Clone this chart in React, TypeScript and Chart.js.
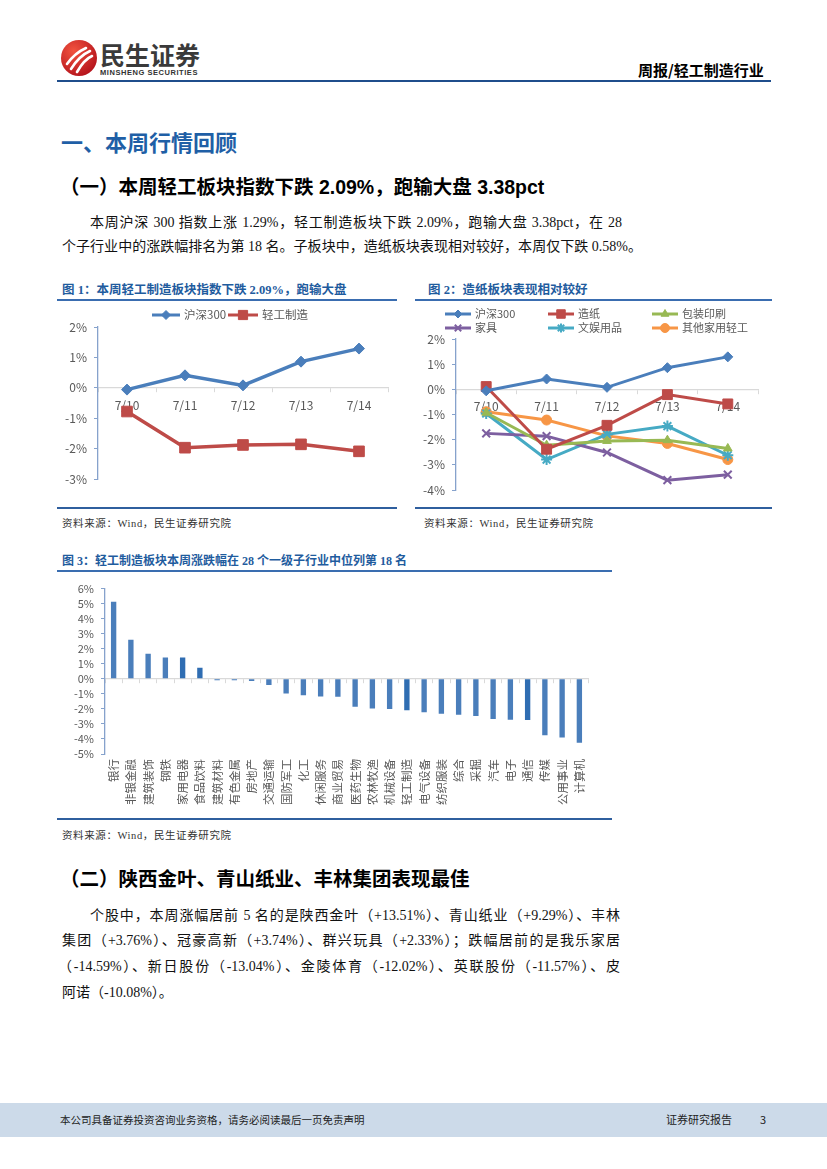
import React, { useEffect, useRef } from 'react';
import { Chart, registerables } from 'chart.js';
import { drawPoint } from 'chart.js/helpers';

Chart.register(...registerables);

const FONT_CJK = '"Noto Sans CJK SC", "Noto Sans", sans-serif';
const FONT_BODY = '"Liberation Serif", "Noto Sans CJK SC", serif';
const FONT_HEAD = '"Liberation Sans", "Noto Sans CJK SC", sans-serif';

// ---------- data ----------
const dates = ['7/10', '7/11', '7/12', '7/13', '7/14'];
const fig1Names = ['沪深300', '轻工制造'];
const hs300 = [-0.06, 0.41, 0.08, 0.86, 1.29];
const qinggong = [-0.78, -1.97, -1.88, -1.86, -2.09];

const fig2Names = ['沪深300', '造纸', '包装印刷', '家具', '文娱用品', '其他家用轻工'];
const zaozhi = [0.11, -2.38, -1.43, -0.21, -0.58];
const baozhuang = [-0.93, -2.22, -2.05, -2.02, -2.35];
const jiaju = [-1.75, -1.86, -2.51, -3.61, -3.39];
const wenyu = [-0.96, -2.79, -1.79, -1.46, -2.62];
const qita = [-0.89, -1.22, -1.85, -2.15, -2.79];

const industries = ['银行', '非银金融', '建筑装饰', '钢铁', '家用电器', '食品饮料', '建筑材料', '有色金属', '房地产', '交通运输', '国防军工', '化工', '休闲服务', '商业贸易', '医药生物', '农林牧渔', '机械设备', '轻工制造', '电气设备', '纺织服装', '综合', '采掘', '汽车', '电子', '通信', '传媒', '公用事业', '计算机'];
const industryChange = [5.13, 2.59, 1.67, 1.41, 1.41, 0.74, -0.1, -0.1, -0.15, -0.41, -0.98, -1.09, -1.17, -1.2, -1.85, -1.98, -2.0, -2.09, -2.22, -2.33, -2.39, -2.48, -2.67, -2.72, -2.74, -3.76, -3.91, -4.26];
const darkerBars = ['家用电器', '食品饮料', '轻工制造', '通信'];

// ---------- styles ----------
const BLUE = '#4A7EBB';
const RED = '#BE4B48';
const GREEN = '#98B954';
const PURPLE = '#7D5FA0';
const TEAL = '#46AAC4';
const ORANGE = '#F79646';
const AXIS_BLUE = '#86A2CC';
const GRID_GRAY = '#D9D9D9';
const TICK_COLOR = '#595959';
const TITLE_BLUE = '#1F5C9E';

type LegendItem = { label: string; color: string; style: any; r: number; bw: number; x: number; y: number; len: number };

function legendPlugin(items: LegendItem[], fontSize: number) {
  return {
    id: 'customLegend',
    afterDraw(chart: any) {
      const ctx = chart.ctx;
      ctx.save();
      items.forEach((it) => {
        ctx.strokeStyle = it.color;
        ctx.fillStyle = it.color;
        ctx.lineWidth = 3;
        ctx.beginPath();
        ctx.moveTo(it.x, it.y);
        ctx.lineTo(it.x + it.len, it.y);
        ctx.stroke();
        ctx.lineWidth = it.bw;
        drawPoint(ctx, { pointStyle: it.style, radius: it.r, borderWidth: it.bw, rotation: 0 } as any, it.x + it.len / 2, it.y);
        ctx.fillStyle = TICK_COLOR;
        ctx.font = `${fontSize}px ${FONT_CJK}`;
        ctx.textBaseline = 'middle';
        ctx.textAlign = 'left';
        ctx.fillText(it.label, it.x + it.len + 4, it.y);
      });
      ctx.restore();
    },
  };
}

function yAxis(min: number, max: number, width: number, fontSize: number) {
  return {
    min,
    max,
    ticks: {
      stepSize: 1,
      autoSkip: false,
      callback: (v: any) => `${v}%`,
      color: TICK_COLOR,
      font: { size: fontSize, family: FONT_CJK },
      padding: 7,
    },
    grid: { display: true, drawOnChartArea: false, drawTicks: true, tickLength: 4, color: AXIS_BLUE },
    border: { display: true, color: AXIS_BLUE, width: 1.3 },
    afterFit: (s: any) => {
      s.width = width;
    },
  };
}

function zeroXAxis(showLabels: boolean, fontSize: number) {
  return {
    type: 'category',
    position: { y: 0 },
    offset: true,
    grid: { display: true, drawOnChartArea: false, drawTicks: true, tickLength: 4, color: GRID_GRAY, offset: true },
    border: { display: true, color: GRID_GRAY, width: 1.2 },
    ticks: {
      display: showLabels,
      color: TICK_COLOR,
      font: { size: fontSize, family: FONT_CJK },
      padding: 6,
      maxRotation: 0,
      autoSkip: false,
    },
  };
}

function lineDs(label: string, data: number[], color: string, style: string, r: number, bw: number, lw: number) {
  return {
    label,
    data,
    borderColor: color,
    backgroundColor: color,
    borderWidth: lw,
    pointStyle: style,
    pointRadius: r,
    pointBorderWidth: bw,
    pointBackgroundColor: color,
    pointBorderColor: color,
    tension: 0,
  };
}

function useChart(ref: React.RefObject<HTMLCanvasElement>, make: (c: HTMLCanvasElement) => Chart) {
  useEffect(() => {
    if (!ref.current) return;
    const ch = make(ref.current);
    return () => ch.destroy();
  }, []);
}

function Fig1() {
  const ref = useRef<HTMLCanvasElement>(null);
  useChart(ref, (c) =>
    new Chart(c, {
      type: 'line',
      data: {
        labels: dates,
        datasets: [
          lineDs(fig1Names[0], hs300, BLUE, 'rectRot', 5.5, 1, 3.5),
          lineDs(fig1Names[1], qinggong, RED, 'rect', 7.5, 1, 3.5),
        ] as any,
      },
      options: {
        responsive: false,
        animation: false,
        layout: { padding: { left: 0, right: 9, top: 24, bottom: 26 } },
        plugins: { legend: { display: false }, tooltip: { enabled: false } },
        scales: { x: zeroXAxis(true, 12) as any, y: yAxis(-3, 2, 41, 12) as any },
      },
      plugins: [
        legendPlugin(
          [
            { label: fig1Names[0], color: BLUE, style: 'rectRot', r: 4.5, bw: 1, x: 95, y: 12, len: 28 },
            { label: fig1Names[1], color: RED, style: 'rect', r: 6.5, bw: 1, x: 171, y: 12, len: 30 },
          ],
          11.5
        ),
      ],
    })
  );
  return <canvas ref={ref} width={340} height={202} style={{ position: 'absolute', left: 57, top: 303, width: 340, height: 202 }} />;
}

function Fig2() {
  const ref = useRef<HTMLCanvasElement>(null);
  useChart(ref, (c) =>
    new Chart(c, {
      type: 'line',
      data: {
        labels: dates,
        datasets: [
          lineDs(fig2Names[0], hs300, BLUE, 'rectRot', 5, 1, 3),
          lineDs(fig2Names[1], zaozhi, RED, 'rect', 7, 1, 3),
          lineDs(fig2Names[2], baozhuang, GREEN, 'triangle', 5, 1, 3),
          lineDs(fig2Names[3], jiaju, PURPLE, 'crossRot', 5.5, 2, 3),
          lineDs(fig2Names[4], wenyu, TEAL, 'star', 5.5, 2, 3),
          lineDs(fig2Names[5], qita, ORANGE, 'circle', 5, 1, 3),
        ] as any,
      },
      options: {
        responsive: false,
        animation: false,
        layout: { padding: { left: 0, right: 14, top: 36, bottom: 15 } },
        plugins: { legend: { display: false }, tooltip: { enabled: false } },
        scales: { x: zeroXAxis(true, 12) as any, y: yAxis(-4, 2, 41, 12) as any },
      },
      plugins: [
        legendPlugin(
          [
            { label: fig2Names[0], color: BLUE, style: 'rectRot', r: 4, bw: 1, x: 30, y: 11, len: 26 },
            { label: fig2Names[1], color: RED, style: 'rect', r: 6, bw: 1, x: 133, y: 11, len: 26 },
            { label: fig2Names[2], color: GREEN, style: 'triangle', r: 4.5, bw: 1, x: 237, y: 11, len: 26 },
            { label: fig2Names[3], color: PURPLE, style: 'crossRot', r: 4.5, bw: 2, x: 30, y: 25, len: 26 },
            { label: fig2Names[4], color: TEAL, style: 'star', r: 4.5, bw: 2, x: 133, y: 25, len: 26 },
            { label: fig2Names[5], color: ORANGE, style: 'circle', r: 4.5, bw: 1, x: 237, y: 25, len: 26 },
          ],
          11
        ),
      ],
    })
  );
  return <canvas ref={ref} width={357} height={202} style={{ position: 'absolute', left: 415, top: 303, width: 357, height: 202 }} />;
}

function Fig3() {
  const ref = useRef<HTMLCanvasElement>(null);
  const barColors = industries.map((n) => (darkerBars.includes(n) ? '#2F6DB2' : BLUE));
  useChart(ref, (c) =>
    new Chart(c, {
      type: 'bar',
      data: {
        labels: industries,
        datasets: [
          {
            data: industryChange,
            backgroundColor: barColors,
            borderWidth: 0,
            barPercentage: 0.31,
            categoryPercentage: 1,
          },
        ],
      },
      options: {
        responsive: false,
        animation: false,
        layout: { padding: { left: 0, right: 24, top: 11, bottom: 0 } },
        plugins: { legend: { display: false }, tooltip: { enabled: false } },
        scales: {
          x: {
            type: 'category',
            position: 'bottom',
            offset: true,
            grid: { display: false, drawTicks: false },
            border: { display: false },
            ticks: {
              autoSkip: false,
              minRotation: 90,
              maxRotation: 90,
              padding: 5,
              color: TICK_COLOR,
              font: { size: 11.5, family: FONT_CJK },
            },
            afterFit: (s: any) => {
              s.height = 64;
            },
          } as any,
          x0: zeroXAxis(false, 11) as any,
          y: yAxis(-5, 6, 48, 11) as any,
        },
      },
    })
  );
  return <canvas ref={ref} width={555} height={243} style={{ position: 'absolute', left: 57, top: 575, width: 555, height: 243 }} />;
}

type TProps = { x: number; y: number; s: number; w?: number; c?: string; f?: string; width?: number; ls?: number; children: React.ReactNode };
function T({ x, y, s, w = 400, c = '#111', f = FONT_BODY, width, ls, children }: TProps) {
  return (
    <div
      style={{
        position: 'absolute',
        left: x,
        top: y - s * 0.6,
        fontSize: s,
        lineHeight: `${s * 1.2}px`,
        fontWeight: w,
        color: c,
        fontFamily: f,
        whiteSpace: 'nowrap',
        width,
        textAlign: width ? 'justify' : undefined,
        textAlignLast: width ? 'justify' : undefined,
        letterSpacing: ls,
      } as any}
    >
      {children}
    </div>
  );
}

function HLine({ x1, x2, y, h, c }: { x1: number; x2: number; y: number; h: number; c: string }) {
  return <div style={{ position: 'absolute', left: x1, top: y - h / 2, width: x2 - x1, height: h, background: c }} />;
}

export default function App() {
  return (
    <div style={{ position: 'absolute', left: 0, top: 0, width: 827, height: 1169, overflow: 'hidden', background: '#fff' }}>
      {/* header */}
      <svg style={{ position: 'absolute', left: 59, top: 38 }} width={40} height={40} viewBox="0 0 40 40">
        <defs>
          <radialGradient id="lg" cx="35%" cy="30%" r="75%">
            <stop offset="0" stopColor="#f2533f" />
            <stop offset="1" stopColor="#b5141c" />
          </radialGradient>
        </defs>
        <circle cx="20" cy="20" r="18" fill="url(#lg)" />
        <path d="M8 26 C 13 19, 18 14, 27 10" stroke="#fff" strokeWidth="2.6" fill="none" strokeLinecap="round" />
        <path d="M12 31 C 17 23, 22 17, 31 13" stroke="#fff" strokeWidth="2.6" fill="none" strokeLinecap="round" />
        <path d="M18 34 C 22 27, 26 21, 33 18" stroke="#fff" strokeWidth="2.6" fill="none" strokeLinecap="round" />
      </svg>
      <T x={100} y={53.5} s={25} w={700} c="#3a3a3a" f={FONT_CJK}>民生证券</T>
      <T x={100} y={72.5} s={7.5} w={700} c="#333" f={FONT_HEAD} ls={0.55}>MINSHENG SECURITIES</T>
      <T x={638} y={70} s={15} w={700} c="#000" f={FONT_CJK}>周报/轻工制造行业</T>
      <HLine x1={57} x2={771} y={80.5} h={2} c="#1F4E8C" />

      {/* section titles */}
      <T x={61} y={141} s={22} w={700} c="#1F5FA6" f={FONT_CJK}>一、本周行情回顾</T>
      <T x={60} y={188} s={19.5} w={700} c="#000" f={FONT_HEAD}>（一）本周轻工板块指数下跌 2.09%，跑输大盘 3.38pct</T>
      <T x={90} y={223} s={14} width={532}>本周沪深 300 指数上涨 1.29%，轻工制造板块下跌 2.09%，跑输大盘 3.38pct，在 28</T>
      <T x={62} y={247} s={14} width={580}>个子行业中的涨跌幅排名为第 18 名。子板块中，造纸板块表现相对较好，本周仅下跌 0.58%。</T>

      {/* figure 1 & 2 */}
      <T x={62} y={290} s={12.5} w={700} c={TITLE_BLUE} f={FONT_BODY}>图 1：本周轻工制造板块指数下跌 2.09%，跑输大盘</T>
      <HLine x1={57} x2={397} y={300} h={1.6} c="#3A6DB0" />
      <T x={428} y={290} s={12.5} w={700} c={TITLE_BLUE} f={FONT_BODY}>图 2：造纸板块表现相对较好</T>
      <HLine x1={415} x2={772} y={300} h={1.6} c="#3A6DB0" />
      <Fig1 />
      <Fig2 />
      <HLine x1={57} x2={397} y={508} h={2} c="#2F5F9E" />
      <HLine x1={415} x2={772} y={508} h={2} c="#2F5F9E" />
      <T x={62} y={524} s={10.5} c="#333" ls={0.6}>资料来源：Wind，民生证券研究院</T>
      <T x={424} y={524} s={10.5} c="#333" ls={0.6}>资料来源：Wind，民生证券研究院</T>

      {/* figure 3 */}
      <T x={62} y={561} s={12} w={700} c={TITLE_BLUE} f={FONT_BODY}>图 3：轻工制造板块本周涨跌幅在 28 个一级子行业中位列第 18 名</T>
      <HLine x1={57} x2={612} y={571} h={1.6} c="#3A6DB0" />
      <Fig3 />
      <HLine x1={57} x2={612} y={819} h={2} c="#2F5F9E" />
      <T x={62} y={836} s={10.5} c="#333" ls={0.6}>资料来源：Wind，民生证券研究院</T>

      {/* section 2 */}
      <T x={60} y={880} s={19.5} w={700} c="#000" f={FONT_HEAD}>（二）陕西金叶、青山纸业、丰林集团表现最佳</T>
      <T x={90} y={916} s={14} width={530}>个股中，本周涨幅居前 5 名的是陕西金叶（+13.51%）、青山纸业（+9.29%）、丰林</T>
      <T x={62} y={941} s={14} width={558}>集团（+3.76%）、冠豪高新（+3.74%）、群兴玩具（+2.33%）；跌幅居前的是我乐家居</T>
      <T x={58} y={967} s={14} width={562}>（-14.59%）、新日股份（-13.04%）、金陵体育（-12.02%）、英联股份（-11.57%）、皮</T>
      <T x={62} y={993} s={14}>阿诺（-10.08%）。</T>

      {/* footer */}
      <div style={{ position: 'absolute', left: 0, top: 1103, width: 827, height: 34, background: '#CCDAE9' }} />
      <T x={60} y={1120} s={10.5} c="#222" f={FONT_CJK}>本公司具备证券投资咨询业务资格，请务必阅读最后一页免责声明</T>
      <T x={666} y={1120} s={11} c="#222" f={FONT_CJK}>证券研究报告</T>
      <T x={760} y={1120} s={11} c="#222" f={FONT_CJK}>3</T>
    </div>
  );
}
